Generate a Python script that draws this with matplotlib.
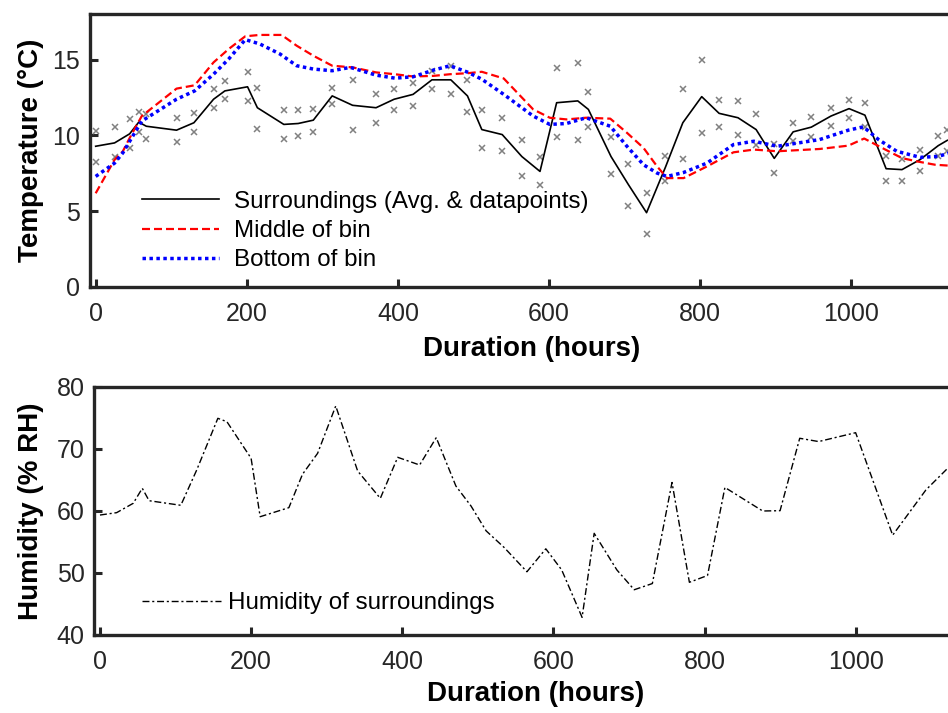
import matplotlib
matplotlib.use('Agg')
import matplotlib.pyplot as plt

plt.rcParams['font.family'] = ['Liberation Sans', 'DejaVu Sans']

#DATA - temperature datapoints (two sensors per time)
hours_pts = [0, 25, 45, 57, 67, 107, 130, 156, 171, 201, 214, 249, 268, 288, 313, 340, 371, 395, 420, 445,
             470, 492, 511, 538, 564, 588, 610, 638, 652, 682, 705, 729, 754, 777, 802, 825, 850, 874, 898, 923,
             947, 973, 997, 1018, 1046, 1067, 1091, 1115, 1127]
temp_hi = [10.27, 10.56, 11.09, 11.53, 11.42, 11.14, 11.45, 13.04, 13.57, 14.19, 13.15, 11.65, 11.65, 11.76, 13.15,
           13.66, 12.73, 13.04, 13.48, 14.26, 14.59, 13.66, 11.65, 11.16, 9.72, 8.55, 14.45, 14.79, 12.86, 9.9,
           8.13, 6.23, 8.66, 13.06, 14.96, 12.36, 12.27, 11.42, 9.43, 10.83, 11.23, 11.82, 12.36, 12.11, 8.61,
           8.44, 9.01, 9.94, 10.38]
temp_lo = [8.24, 8.57, 9.17, 10.2, 9.77, 9.54, 10.23, 11.78, 12.38, 12.27, 10.45, 9.77, 9.94, 10.23, 12.04,
           10.34, 10.83, 11.67, 11.93, 13.04, 12.75, 11.53, 9.15, 8.94, 7.33, 6.74, 9.87, 9.72, 10.54, 7.44,
           5.32, 3.5, 6.96, 8.44, 10.14, 10.54, 10.01, 9.34, 7.51, 9.61, 9.87, 10.6, 11.14, 10.54, 7.0,
           7.0, 7.68, 8.61, 8.95]
temp_avg = [9.28, 9.5, 10.1, 10.87, 10.6, 10.34, 10.83, 12.38, 12.93, 13.2, 11.82, 10.72, 10.78, 11.0, 12.6,
            11.98, 11.82, 12.38, 12.7, 13.66, 13.66, 12.6, 10.38, 10.05, 8.6, 7.62, 12.15, 12.27, 11.71, 8.6,
            6.75, 4.9, 7.9, 10.83, 12.55, 11.45, 11.16, 10.38, 8.48, 10.23, 10.54, 11.27, 11.76, 11.33, 7.8,
            7.74, 8.4, 9.32, 9.67]

#Middle of bin
mid_hours = [0, 25, 36, 45, 61, 107, 131, 156, 176, 198, 217, 246, 266, 288, 313, 340, 371, 396, 420, 447,
             469, 493, 511, 540, 561, 579, 601, 623, 649, 681, 703, 725, 743, 756, 778, 809, 844, 871, 902, 958,
             996, 1017, 1045, 1067, 1087, 1111, 1130]
mid_temp = [6.18, 8.39, 8.95, 9.83, 11.27, 13.08, 13.3, 14.81, 15.69, 16.53, 16.62, 16.62, 15.91, 15.25, 14.59,
            14.48, 14.15, 14.03, 13.88, 13.92, 14.03, 14.1, 14.19, 13.75, 12.65, 11.71, 11.16, 11.05, 11.16, 11.1,
            10.17, 9.17, 7.95, 7.18, 7.18, 7.95, 8.88, 9.06, 8.95, 9.1, 9.32, 9.79, 9.06, 8.5, 8.28, 8.06, 8.0]

#Bottom of bin
bot_hours = [0, 25, 36, 45, 61, 107, 131, 156, 176, 198, 217, 244, 266, 288, 313, 337, 371, 396, 420, 447,
             469, 493, 511, 540, 561, 579, 601, 623, 649, 681, 703, 725, 743, 756, 778, 809, 844, 871, 902, 958,
             996, 1016, 1036, 1060, 1091, 1115, 1130]
bot_temp = [7.29, 8.17, 8.85, 9.61, 10.94, 12.38, 12.93, 14.03, 15.03, 16.31, 16.03, 15.36, 14.59, 14.37, 14.26,
            14.48, 13.97, 13.77, 13.86, 14.3, 14.59, 14.15, 13.7, 12.7, 11.93, 11.27, 10.72, 10.78, 11.16, 10.6,
            9.28, 8.06, 7.51, 7.29, 7.55, 8.17, 9.39, 9.61, 9.28, 9.72, 10.34, 10.56, 9.72, 8.95, 8.55, 8.61, 8.84]

#Humidity of surroundings
rh_hours = [0, 22, 44, 56, 65, 107, 128, 156, 168, 200, 212, 250, 268, 288, 312, 341, 371, 394, 423, 445,
            471, 491, 511, 535, 565, 590, 611, 638, 654, 684, 707, 731, 757, 780, 804, 827, 850, 877, 900, 926,
            951, 1000, 1049, 1093, 1126]
rh = [59.35, 59.73, 61.24, 63.66, 61.66, 60.92, 66.61, 74.95, 74.4, 68.5, 59.08, 60.54, 65.92, 69.3, 76.94,
      66.45, 62.04, 68.66, 67.42, 71.83, 64.03, 60.81, 56.8, 54.1, 50.2, 53.9, 50.5, 42.85, 56.4, 50.5,
      47.3, 48.3, 64.6, 48.5, 49.6, 63.8, 62.05, 60.0, 60.05, 71.73, 71.2, 72.63, 56.1, 63.4, 67.4]

x_ticks = [0, 200, 400, 600, 800, 1000]
t_ticks = [0, 5, 10, 15]
rh_ticks = [40, 50, 60, 70, 80]

axcol = '#262626'
W, H = 948, 713

def style_axes(ax):
    for s in ax.spines.values():
        s.set_linewidth(2.4)
        s.set_color(axcol)
    ax.tick_params(direction='in', length=6, width=2.2, colors=axcol, labelsize=18,
                   top=False, right=False)
    ax.tick_params(axis='x', pad=11)
    ax.tick_params(axis='y', pad=7)

fig = plt.figure(figsize=(W / 100, H / 100), dpi=100)

#1 - Temperature
ax1 = fig.add_axes([90 / W, 1 - 287 / H, 883 / W, 273 / H])
ax1.plot(hours_pts, temp_hi, 'x', color='#808080', ms=5, mew=1.1)
ax1.plot(hours_pts, temp_lo, 'x', color='#808080', ms=5, mew=1.1)
ax1.plot(hours_pts, temp_avg, color='black', lw=1.2, label='Surroundings (Avg. & datapoints)')
ax1.plot(mid_hours, mid_temp, color='red', lw=1.6, dashes=(3.6, 1.8), label='Middle of bin')
ax1.plot(bot_hours, bot_temp, color='blue', lw=2.5, dashes=(1, 1), dash_capstyle='butt', label='Bottom of bin')
ax1.set_xlim(-7.5, 1161)
ax1.set_ylim(0, 18)
ax1.set_xticks(x_ticks)
ax1.set_yticks(t_ticks)
style_axes(ax1)
ax1.set_xlabel('Duration (hours)', fontsize=20, fontweight='bold', labelpad=7)
ax1.set_ylabel('Temperature (°C)', fontsize=20, fontweight='bold')
ax1.yaxis.set_label_coords(-0.052, 0.5)
ax1.legend(loc='center left', bbox_to_anchor=(0.0585, 0.205), frameon=False, fontsize=17.4,
           handlelength=3.2, handletextpad=0.62, labelspacing=0.3, borderpad=0, borderaxespad=0)

#2 - Humidity
ax2 = fig.add_axes([94.3 / W, 1 - 635 / H, 883 / W, 248 / H])
ax2.plot(rh_hours, rh, color='black', lw=1.0, dashes=(5, 2, 1.5, 2), label='Humidity of surroundings')
ax2.set_xlim(-7.5, 1161)
ax2.set_ylim(40, 80)
ax2.set_xticks(x_ticks)
ax2.set_yticks(rh_ticks)
style_axes(ax2)
ax2.set_xlabel('Duration (hours)', fontsize=20, fontweight='bold', labelpad=5)
ax2.set_ylabel('Humidity (% RH)', fontsize=20, fontweight='bold')
ax2.yaxis.set_label_coords(-0.057, 0.5)
ax2.legend(loc='center left', bbox_to_anchor=(0.0537, 0.129), frameon=False, fontsize=17.4,
           handlelength=3.3, handletextpad=0.25, borderpad=0, borderaxespad=0)

fig.savefig('out.png', dpi=100)
